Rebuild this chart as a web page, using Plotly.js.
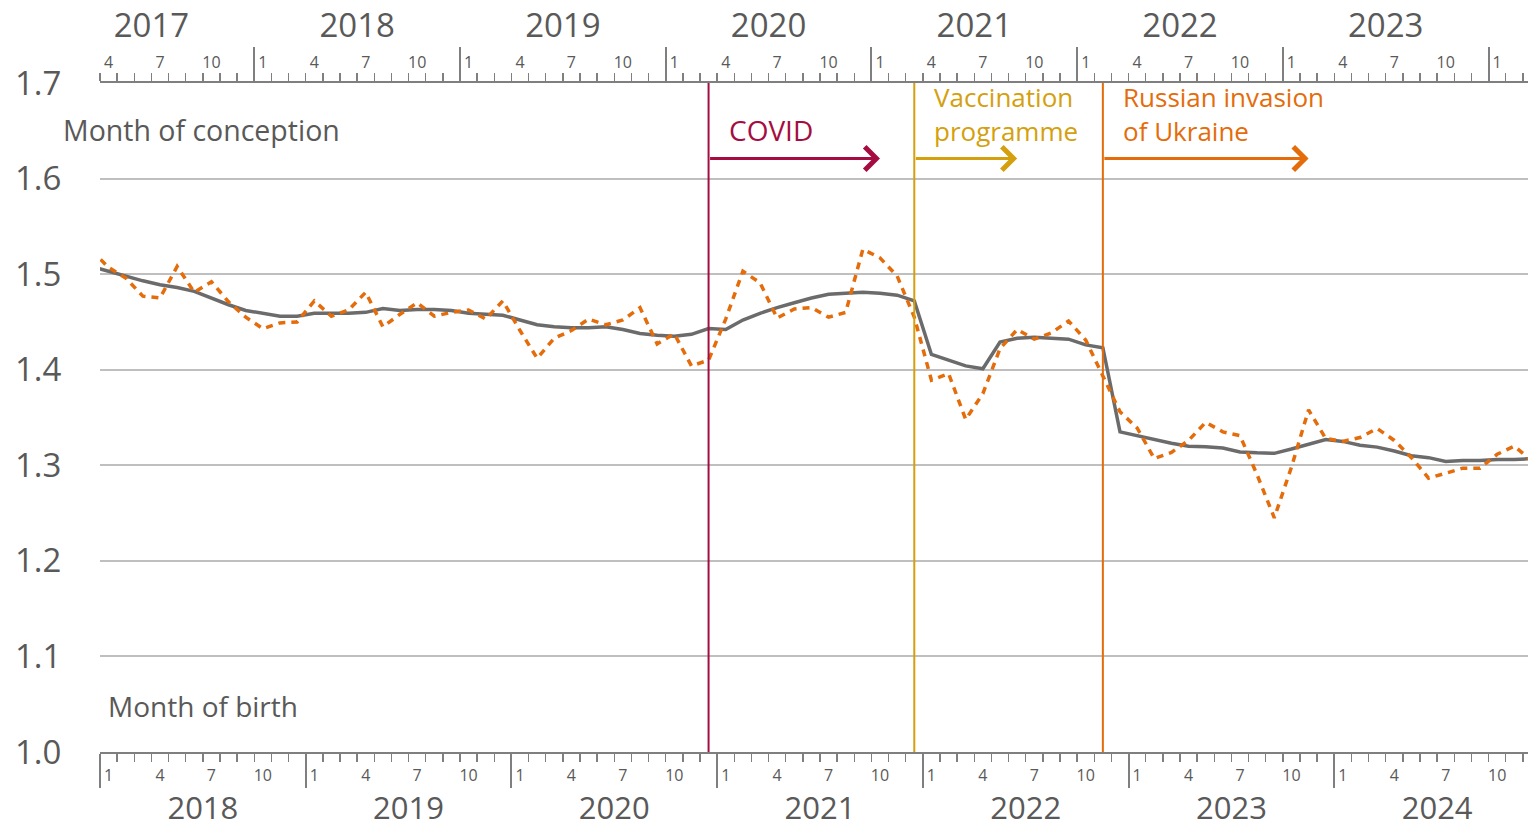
<!DOCTYPE html>
<html><head><meta charset="utf-8">
<script src="https://cdn.plot.ly/plotly-3.0.1.min.js"></script>
<style>html,body{margin:0;padding:0;background:#fff;} #chart{width:1529px;height:828px;}</style>
</head><body><div id="chart"></div>
<script>
// ---- data (month of birth, first value = December 2017) ----
const firstYear = 2017;
const firstMonth = 12;
const trendRate = [
  1.508, 1.503, 1.498, 1.493, 1.489, 1.486, 1.482, 1.475, 1.468, 1.462, 1.459, 1.456, 1.456,
  1.459, 1.459, 1.459, 1.460, 1.464, 1.462, 1.463, 1.463, 1.462, 1.459, 1.458, 1.457,
  1.452, 1.447, 1.445, 1.444, 1.444, 1.445, 1.442, 1.438, 1.436, 1.435, 1.437, 1.443,
  1.442, 1.452, 1.459, 1.465, 1.470, 1.475, 1.479, 1.480, 1.481, 1.480, 1.478, 1.472,
  1.416, 1.410, 1.404, 1.401, 1.429, 1.433, 1.434, 1.433, 1.432, 1.426, 1.423, 1.335,
  1.331, 1.327, 1.323, 1.320, 1.3195, 1.318, 1.314, 1.313, 1.3125, 1.317, 1.322, 1.327,
  1.325, 1.321, 1.319, 1.315, 1.310, 1.308, 1.304, 1.305, 1.305, 1.306, 1.306, 1.307
];
const monthlyRate = [
  1.525, 1.507, 1.496, 1.477, 1.475, 1.508, 1.481, 1.492, 1.471, 1.455, 1.443, 1.449, 1.450,
  1.472, 1.456, 1.4625, 1.481, 1.445, 1.458, 1.470, 1.456, 1.460, 1.4625, 1.453, 1.472,
  1.441, 1.412, 1.433, 1.441, 1.453, 1.447, 1.452, 1.465, 1.427, 1.4375, 1.404, 1.410,
  1.453, 1.503, 1.491, 1.454, 1.4635, 1.465, 1.455, 1.460, 1.526, 1.517, 1.498, 1.455,
  1.389, 1.396, 1.348, 1.375, 1.422, 1.442, 1.432, 1.4385, 1.451, 1.431, 1.394, 1.356,
  1.339, 1.307, 1.3135, 1.326, 1.345, 1.335, 1.331, 1.290, 1.245, 1.298, 1.358, 1.328,
  1.325, 1.329, 1.3385, 1.326, 1.308, 1.2865, 1.2917, 1.297, 1.297, 1.3115, 1.320, 1.305
];
const birthYears = [2018, 2019, 2020, 2021, 2022, 2023, 2024];
const conceptionYears = [2017, 2018, 2019, 2020, 2021, 2022, 2023];
const labelledMonths = [1, 4, 7, 10];
const yTicks = [1.0, 1.1, 1.2, 1.3, 1.4, 1.5, 1.6, 1.7];
const eventNames = ['COVID', 'Vaccination<br>programme', 'Russian invasion<br>of Ukraine'];
const eventConception = [[2020, 3], [2021, 3], [2022, 2]];
const eventArrowMonths = [10, 6, 12];
const eventColors = ['#A50D42', '#D4A00E', '#E46C0A'];
const gestationMonths = 9;

// ---- helpers ----
const mIndex = (y, mo) => (y - firstYear) * 12 + (mo - 1);
const birthRange = [11.5, 94.8];
const conceptionRange = [birthRange[0] - gestationMonths, birthRange[1] - gestationMonths];
const xs = trendRate.map((_, k) => mIndex(firstYear, firstMonth) + k);
const inR = (v, r) => v >= r[0] - 1e-9 && v <= r[1] + 1e-9;

function boundaries(years, r) { return years.map(y => mIndex(y, 1) - 0.5).filter(v => inR(v, r)); }
function monthTicks(years, r) {
  const vals = [], text = [];
  years.concat([years[years.length - 1] + 1]).forEach(y => labelledMonths.forEach(mo => {
    const v = mIndex(y, mo); if (inR(v, r)) { vals.push(v); text.push(String(mo)); }
  }));
  return {vals, text};
}
function yearTicks(years, r) {
  const vals = [], text = [];
  years.forEach(y => { const v = mIndex(y, 1) + 5.5; if (inR(v, r)) { vals.push(v); text.push(String(y)); } });
  return {vals, text};
}

const GREY = '#595959', AX = '#7F7F7F', FONT = 'Open Sans, Noto Sans, sans-serif';

function tickAxis(side, r, years, overlay) {
  const a = {
    range: r, side: side, anchor: 'y', showgrid: false, zeroline: false, fixedrange: true,
    showline: true, linecolor: AX, linewidth: 2,
    tickmode: 'array', tickvals: boundaries(years.concat([years[years.length-1]+1]), r),
    ticks: 'outside', ticklen: 34, tickwidth: 2, tickcolor: AX, showticklabels: false,
    minor: {tickmode: 'linear', tick0: r[0], dtick: 1, ticks: 'outside', ticklen: 8, tickwidth: 1.5, tickcolor: AX, showgrid: false}
  };
  if (overlay) a.overlaying = 'x';
  return a;
}
function labelAxis(side, r, t, len, size) {
  return {
    range: r, side: side, anchor: 'y', overlaying: 'x', showgrid: false, zeroline: false, showline: false, fixedrange: true,
    tickmode: 'array', tickvals: t.vals, ticktext: t.text,
    ticks: 'outside', ticklen: len, tickcolor: 'rgba(0,0,0,0)', tickfont: {family: FONT, size: size, color: GREY}
  };
}

const bm = monthTicks(birthYears, birthRange), by = yearTicks(birthYears, birthRange);
const cm = monthTicks(conceptionYears, conceptionRange), cy = yearTicks(conceptionYears, conceptionRange);

const traces = [
  {x: xs, y: trendRate, type: 'scatter', mode: 'lines', line: {color: '#6B6B6B', width: 3.5}, hoverinfo: 'skip', showlegend: false},
  {x: xs, y: monthlyRate, type: 'scatter', mode: 'lines', line: {color: '#E46C0A', width: 3.5, dash: '7px,6px'}, hoverinfo: 'skip', showlegend: false}
];
// empty carrier traces so the extra (label / conception) axes get drawn
['x2', 'x3', 'x4', 'x5', 'x6'].forEach(ax => traces.push({x: [], y: [], xaxis: ax, yaxis: 'y', type: 'scatter', mode: 'lines', hoverinfo: 'skip', showlegend: false}));

const shapes = [], annotations = [];
const arrowY = 1.621, lastLineY = 1.651, blockCenterY = 1.6672;
eventConception.forEach((ec, k) => {
  const xb = mIndex(ec[0], ec[1]) + gestationMonths;
  shapes.push({type: 'line', xref: 'x', yref: 'y', x0: xb, x1: xb, y0: yTicks[0], y1: yTicks[yTicks.length-1],
               line: {color: eventColors[k], width: 2}});
  annotations.push({xref: 'x', yref: 'y', axref: 'x', ayref: 'y', x: xb + eventArrowMonths[k], y: arrowY,
                    ax: xb, ay: arrowY, text: '', showarrow: true, arrowhead: 4, arrowsize: 1.5, arrowwidth: 3,
                    arrowcolor: eventColors[k], standoff: 0, startstandoff: 0});
  const nLines = eventNames[k].split('<br>').length;
  annotations.push({xref: 'x', yref: 'y', x: xb + 1.05, y: nLines > 1 ? blockCenterY : lastLineY,
                    xanchor: 'left', yanchor: 'middle', align: 'left', text: eventNames[k], showarrow: false,
                    font: {family: FONT, size: nLines > 1 ? 26 : 28, color: eventColors[k]}});
});
annotations.push({xref: 'paper', yref: 'y', x: -0.027, y: lastLineY, xanchor: 'left', yanchor: 'middle',
                  text: 'Month of conception', showarrow: false, font: {family: FONT, size: 28.5, color: GREY}});
annotations.push({xref: 'paper', yref: 'y', x: 0.004, y: 1.048, xanchor: 'left', yanchor: 'middle',
                  text: 'Month of birth', showarrow: false, font: {family: FONT, size: 28, color: GREY}});

const layout = {
  width: 1529, height: 828,
  margin: {l: 100, r: 1, t: 83, b: 76},
  paper_bgcolor: '#ffffff', plot_bgcolor: '#ffffff',
  font: {family: FONT, color: GREY},
  showlegend: false,
  xaxis: tickAxis('bottom', birthRange, birthYears, false),
  xaxis2: labelAxis('bottom', birthRange, bm, 9, 16),
  xaxis3: labelAxis('bottom', birthRange, by, 29, 31),
  xaxis4: tickAxis('top', conceptionRange, conceptionYears, true),
  xaxis5: labelAxis('top', conceptionRange, cm, 8, 16),
  xaxis6: labelAxis('top', conceptionRange, cy, 32, 33),
  yaxis: {range: [yTicks[0], yTicks[yTicks.length-1]], tickmode: 'array', tickvals: yTicks, tickformat: '.1f',
          showgrid: true, gridcolor: '#BFBFBF', gridwidth: 2, zeroline: false, showline: false, fixedrange: true,
          ticks: 'outside', ticklen: 31, tickcolor: 'rgba(0,0,0,0)', tickfont: {family: FONT, size: 33, color: GREY}},
  shapes: shapes,
  annotations: annotations
};

Plotly.newPlot('chart', traces, layout, {displayModeBar: false, staticPlot: true});
</script></body></html>
